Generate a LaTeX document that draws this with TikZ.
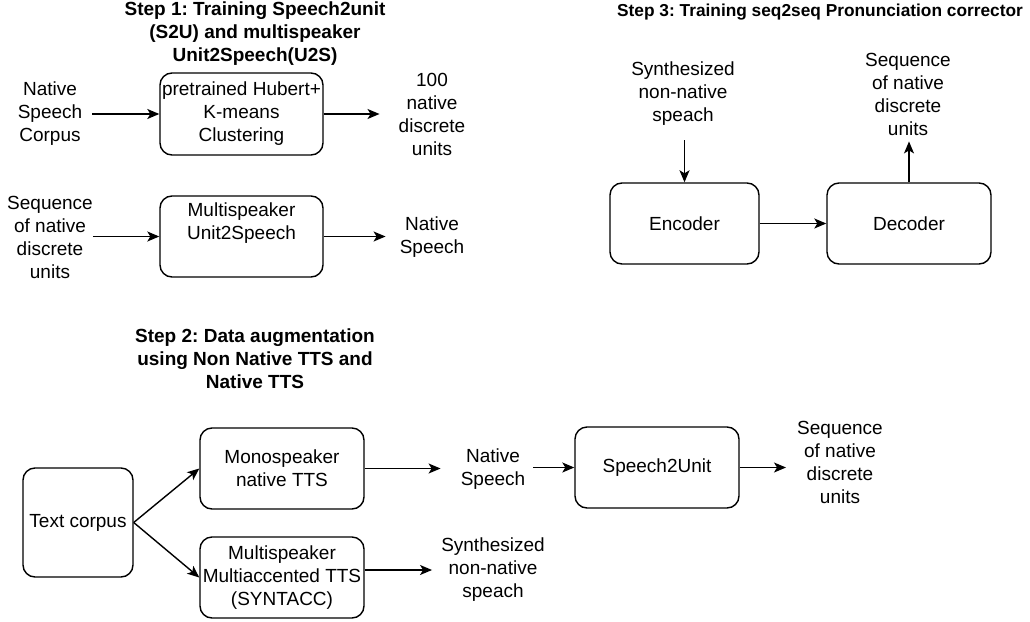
\documentclass[tikz,border=0pt]{standalone}
\usepackage{fontspec}
\setmainfont{Liberation Sans}
\usetikzlibrary{arrows.meta,positioning}
\newcommand{\normtext}{\fontsize{19}{23}\selectfont}
\newcommand{\titletext}{\fontsize{19}{23}\selectfont\bfseries}
\frenchspacing

\begin{document}
\begin{tikzpicture}[x=1pt, y=-1pt,
  box/.style={draw, rounded corners=12pt, line width=1.4pt, align=center,
    inner sep=0pt, minimum width=164pt, minimum height=81pt, font=\normtext},
  lbl/.style={align=center, inner sep=0pt, font=\normtext},
  ttl/.style={align=center, inner sep=0pt, font=\titletext},
  arr/.style={-{Stealth[length=12pt, width=10pt, inset=3pt]}, line width=1.4pt}]
  \useasboundingbox (0,0) rectangle (1030,621);

  % step 1
  \node [ttl] (title1) at (255,34) {Step 1: Training Speech2unit\\(S2U) and multispeaker\\Unit2Speech(U2S)};
  \node [lbl] (in1) at (50,114) {Native\\Speech\\Corpus};
  \node [box, minimum width=163pt, minimum height=82pt] (hubert) at (241.5,114) {pretrained Hubert+\\K-means\\Clustering};
  \node [lbl] (out1) at (432,114) {100\\native\\discrete\\units};
  \node [lbl] (in2) at (50,237) {Sequence\\of native\\discrete\\units};
  \node [box, minimum width=163pt] (u2s) at (241.5,236.5) {Multispeaker\\Unit2Speech\\\strut};
  \node [lbl] (out2) at (432,237) {Native\\Speech};
  \draw [arr, shorten <=10pt] (in1.east |- hubert.west) -- (hubert.west);
  \draw [arr, shorten >=19pt] (hubert.east) -- (hubert.east -| out1.west);
  \draw [arr] (in2.east |- u2s.west) -- (u2s.west);
  \draw [arr, shorten >=14pt] (u2s.east) -- (u2s.east -| out2.west);

  % step 3
  \node [ttl, font=\fontsize{17.3}{21}\selectfont\bfseries] (title3) at (820,12) {Step 3: Training seq2seq Pronunciation corrector};
  \node [lbl] (synth) at (683,94) {Synthesized\\non-native\\speach};
  \node [box, minimum width=149pt] (enc) at (684.5,223.5) {Encoder};
  \node [box] (dec) at (909,223.5) {Decoder};
  \node [lbl] (seqout) at (908,94) {Sequence\\of native\\discrete\\units};
  \draw [arr, shorten <=14pt] (enc.north |- synth.south) -- (enc.north);
  \draw [arr] (enc.east) -- (dec.west);
  \draw [arr, shorten >=6pt] (dec.north) -- (dec.north |- seqout.south);

  % step 2
  \node [ttl] (title2) at (255,359) {Step 2: Data augmentation\\using Non Native TTS and\\Native TTS};
  \node [box, minimum width=110pt, minimum height=109pt] (txt) at (78,522.5) {Text corpus};
  \node [box] (mono) at (282,468.5) {Monospeaker\\native TTS};
  \node [box] (multi) at (282,577.5) {Multispeaker\\Multiaccented TTS\\(SYNTACC)};
  \node [lbl] (natsp) at (493,469.5) {Native\\Speech};
  \node [lbl] (synsp) at (493,570) {Synthesized\\non-native\\speach};
  \node [box] (s2u) at (657,467.5) {Speech2Unit};
  \node [lbl] (seq2) at (840,462) {Sequence\\of native\\discrete\\units};
  \draw [arr] (txt.east) -- (mono.west);
  \draw [arr] (txt.east) -- (multi.west);
  \draw [arr, shorten >=20pt] (mono.east) -- (mono.east -| natsp.west);
  \draw [arr, shorten <=8pt] (natsp.east |- s2u.west) -- (s2u.west);
  \draw [arr, shorten >=11pt] (s2u.east) -- (s2u.east -| seq2.west);
  \draw [arr, shorten >=9pt] (multi.east |- synsp.west) -- (synsp.west);
\end{tikzpicture}
\end{document}
